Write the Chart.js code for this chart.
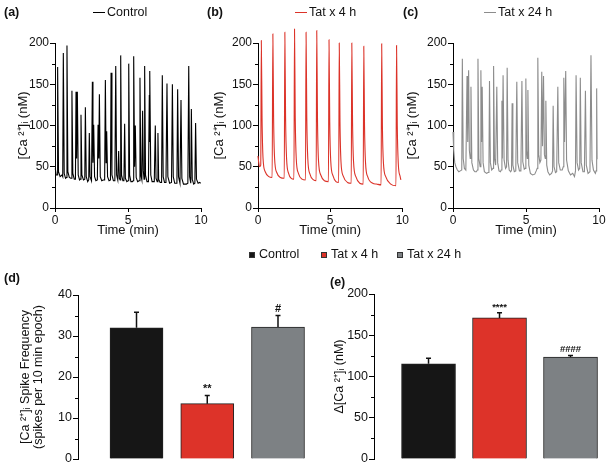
<!DOCTYPE html>
<html>
<head>
<meta charset="utf-8">
<script src="https://cdn.jsdelivr.net/npm/chart.js@4"></script>
<style>
  body { margin: 0; background: #fff; }
  #fig { position: relative; width: 612px; height: 470px; background: #fff; font-family: 'Liberation Sans', Arial, sans-serif; color: #111; }
  #fig canvas { position: absolute; }
  .lbl { position: absolute; font-size: 12.5px; line-height: 16px; white-space: nowrap; }
  .panel { font-weight: bold; }
  .ln { display: inline-block; width: 12px; height: 1.5px; vertical-align: middle; margin-right: 2px; }
  .sq { display: inline-block; width: 6px; height: 6px; vertical-align: middle; margin-right: 4px; border: 0.5px solid #333; box-sizing: border-box; }
</style>
</head>
<body>
<div id="fig">
  <canvas id="traceA" width="212" height="245" style="left:0;top:0"></canvas>
  <canvas id="traceB" width="205" height="245" style="left:205px;top:0"></canvas>
  <canvas id="traceC" width="207" height="245" style="left:405px;top:0"></canvas>
  <canvas id="freqChart" width="318" height="205" style="left:0;top:265px"></canvas>
  <canvas id="deltaChart" width="294" height="205" style="left:318px;top:265px"></canvas>

  <div class="lbl panel" style="left:4px;top:4px">(a)</div>
  <div class="lbl panel" style="left:207px;top:4px">(b)</div>
  <div class="lbl panel" style="left:403px;top:4px">(c)</div>
  <div class="lbl panel" style="left:4px;top:270px">(d)</div>
  <div class="lbl panel" style="left:330px;top:274px">(e)</div>

  <div class="lbl" style="left:93px;top:4px"><span class="ln" style="background:#000"></span>Control</div>
  <div class="lbl" style="left:295px;top:4px"><span class="ln" style="background:#dc3329"></span>Tat x 4 h</div>
  <div class="lbl" style="left:484px;top:4px"><span class="ln" style="background:#8c8c8c"></span>Tat x 24 h</div>

  <div class="lbl" style="left:249px;top:246px"><span class="sq" style="background:#161616"></span>Control</div>
  <div class="lbl" style="left:321px;top:246px"><span class="sq" style="background:#dd3329"></span>Tat x 4 h</div>
  <div class="lbl" style="left:397px;top:246px"><span class="sq" style="background:#7d8184"></span>Tat x 24 h</div>
</div>

<script>
// [time (min), [Ca2+]i (nM)]
const controlTrace = [
  [0.02,48],[0.08,40],[0.15,40],[0.18,171],[0.24,44],[0.35,38],[0.48,40],[0.53,38],[0.57,188],[0.63,42],
  [0.72,36],[0.78,37],[0.82,197],[0.88,44],[0.98,37],[1.08,36],[1.13,36],[1.16,142],[1.22,42],[1.32,35],
  [1.4,35],[1.44,141],[1.48,60],[1.53,141],[1.59,40],[1.68,34],[1.74,35],[1.78,113],[1.84,40],[1.95,34],
  [2.04,35],[2.08,122],[2.14,38],[2.24,32],[2.31,34],[2.35,91],[2.4,38],[2.5,33],[2.56,153],[2.6,55],
  [2.65,101],[2.71,38],[2.8,33],[2.9,34],[2.95,101],[3.0,60],[3.04,138],[3.1,38],[3.2,33],[3.3,34],
  [3.4,34],[3.45,155],[3.5,55],[3.54,93],[3.6,38],[3.7,33],[3.8,34],[3.84,164],[3.9,40],[4.0,33],
  [4.1,33],[4.16,172],[4.22,40],[4.3,34],[4.36,69],[4.41,36],[4.46,34],[4.5,185],[4.56,40],[4.65,33],
  [4.72,33],[4.77,102],[4.82,36],[4.92,32],[5.0,33],[5.05,175],[5.11,40],[5.2,32],[5.3,32],[5.35,33],
  [5.39,184],[5.45,50],[5.5,100],[5.56,37],[5.66,32],[5.76,33],[5.82,158],[5.88,40],[5.95,34],[6.0,118],
  [6.05,45],[6.1,35],[6.14,172],[6.2,40],[6.3,32],[6.4,32],[6.46,137],[6.48,80],[6.5,166],[6.56,40],
  [6.65,32],[6.8,32],[6.87,100],[6.92,36],[7.0,32],[7.05,91],[7.1,35],[7.2,31],[7.3,31],[7.35,161],
  [7.41,38],[7.5,31],[7.6,31],[7.67,151],[7.73,38],[7.85,30],[7.98,31],[8.04,150],[8.1,38],[8.2,30],
  [8.35,30],[8.4,144],[8.46,38],[8.56,30],[8.63,131],[8.69,36],[8.8,29],[9.0,29],[9.1,30],[9.16,172],
  [9.22,38],[9.3,30],[9.34,120],[9.4,35],[9.5,29],[9.58,30],[9.63,103],[9.69,35],[9.8,30],[9.9,31],[9.98,30]
];
const tat4hTrace = [
  [0.0,63],[0.05,55],[0.1,50],[0.19,52],[0.23,203],[0.28,110],[0.35,60],[0.5,44],[0.75,38],[0.98,37],
  [1.03,211],[1.08,110],[1.15,60],[1.3,43],[1.55,37],[1.82,36],
  [1.86,213],[1.91,110],[1.98,60],[2.12,42],[2.3,36],[2.49,35],
  [2.53,217],[2.58,110],[2.65,60],[2.8,42],[3.05,35],[3.29,34],
  [3.33,213],[3.38,110],[3.45,60],[3.6,41],[3.85,34],[4.03,33],
  [4.07,215],[4.12,110],[4.19,58],[4.35,40],[4.6,33],[4.88,32],
  [4.92,204],[4.97,105],[5.04,57],[5.2,39],[5.4,32],[5.59,31],
  [5.63,200],[5.68,105],[5.75,56],[5.9,39],[6.2,31],[6.46,30],
  [6.5,200],[6.55,105],[6.62,56],[6.78,38],[7.05,30],[7.29,29],
  [7.33,196],[7.38,100],[7.45,55],[7.6,38],[7.95,30],[8.2,29],[8.53,28],
  [8.57,199],[8.62,100],[8.69,55],[8.85,38],[9.2,29],[9.56,27],
  [9.6,197],[9.65,100],[9.72,54],[9.85,38],[9.9,34]
];
const tat24hTrace = [
  [0.0,92],[0.05,70],[0.12,55],[0.2,50],[0.3,46],[0.4,44],[0.5,45],[0.6,46],[0.64,181],[0.7,60],
  [0.78,48],[0.88,46],[0.96,160],[1.01,80],[1.07,167],[1.12,70],[1.18,60],[1.23,147],[1.29,55],[1.4,46],
  [1.5,44],[1.6,44],[1.67,46],[1.71,181],[1.77,60],[1.86,50],[1.91,167],[1.96,80],[2.0,147],[2.06,55],
  [2.15,44],[2.3,42],[2.4,43],[2.46,45],[2.5,154],[2.56,55],[2.65,46],[2.74,48],[2.78,172],[2.84,60],
  [2.92,52],[3.0,147],[3.06,55],[3.15,45],[3.25,44],[3.3,46],[3.35,130],[3.38,60],[3.43,161],[3.5,58],
  [3.6,48],[3.67,50],[3.71,170],[3.77,58],[3.85,46],[3.95,44],[4.01,46],[4.05,127],[4.1,52],[4.2,44],
  [4.3,45],[4.37,153],[4.43,55],[4.55,45],[4.65,45],[4.72,154],[4.78,56],[4.88,47],[4.95,48],[4.99,157],
  [5.04,70],[5.09,60],[5.13,143],[5.19,52],[5.3,42],[5.45,40],[5.6,41],[5.7,45],[5.77,48],[5.81,182],
  [5.87,65],[5.95,55],[6.02,58],[6.08,165],[6.13,75],[6.2,160],[6.26,65],[6.32,60],[6.36,130],[6.42,52],
  [6.5,44],[6.62,40],[6.75,42],[6.82,45],[6.86,124],[6.92,50],[7.02,43],[7.1,44],[7.18,147],[7.24,55],
  [7.35,46],[7.48,46],[7.55,50],[7.59,158],[7.64,80],[7.72,166],[7.78,58],[7.9,45],[8.05,40],[8.2,42],
  [8.32,38],[8.39,45],[8.43,161],[8.5,55],[8.6,46],[8.68,48],[8.72,158],[8.78,55],[8.9,44],[9.0,44],
  [9.07,142],[9.13,52],[9.25,42],[9.38,44],[9.45,185],[9.52,58],[9.62,46],[9.75,42],[9.8,45],[9.84,145],[9.87,59]
];

const groups = ['Control', 'Tat x 4 h', 'Tat x 24 h'];
const spikeFreq = [32.0, 13.5, 32.2];
const spikeFreqSem = [3.8, 2.0, 2.8];
const spikeFreqMarks = ['', '**', '#'];
const deltaCa = [115.5, 171.0, 123.6];
const deltaCaSem = [6.5, 6.3, 2.0];
const deltaCaMarks = ['', '****', '####'];

const barColors = ['#161616', '#dd3329', '#7d8184'];
const FONT = "'Liberation Sans', Arial, sans-serif";
Chart.defaults.font.family = FONT;
Chart.defaults.color = '#111';
Chart.defaults.animation = false;

// short minor ticks half way between the labelled ones
const minorTicks = {
  id: 'minorTicks',
  afterDraw(chart, args, opts) {
    if (!opts.step) return;
    const y = chart.scales.y;
    const ctx = chart.ctx;
    ctx.save();
    ctx.strokeStyle = '#000';
    ctx.lineWidth = 1;
    for (let v = y.min + opts.step; v < y.max; v += 2 * opts.step) {
      const py = Math.round(y.getPixelForValue(v)) + 0.5;
      ctx.beginPath();
      ctx.moveTo(y.right - 3, py);
      ctx.lineTo(y.right, py);
      ctx.stroke();
    }
    ctx.restore();
  }
};

function makeErrorBars(means, sem, marks, markFont) {
  return {
    id: 'errorBars',
    afterDatasetsDraw(chart) {
      const meta = chart.getDatasetMeta(0);
      const y = chart.scales.y;
      const ctx = chart.ctx;
      ctx.save();
      meta.data.forEach((bar, i) => {
        const top = y.getPixelForValue(means[i] + sem[i]);
        ctx.strokeStyle = '#111';
        ctx.lineWidth = 1.5;
        ctx.beginPath();
        ctx.moveTo(bar.x, bar.y);
        ctx.lineTo(bar.x, top);
        ctx.moveTo(bar.x - 2.5, top);
        ctx.lineTo(bar.x + 2.5, top);
        ctx.stroke();
        if (marks[i]) {
          ctx.fillStyle = '#111';
          ctx.font = markFont;
          ctx.textAlign = 'center';
          ctx.textBaseline = 'bottom';
          ctx.fillText(marks[i], bar.x, top - 1);
        }
      });
      ctx.restore();
    }
  };
}

function traceChart(id, points, color, yWidth, yTitlePad, padRight, smooth) {
  return new Chart(document.getElementById(id), {
    type: 'line',
    data: {
      datasets: [{
        data: points.map(p => ({ x: p[0], y: p[1] })),
        borderColor: color,
        borderWidth: 1.1,
        pointRadius: 0,
        cubicInterpolationMode: smooth ? 'monotone' : 'default',
        clip: false
      }]
    },
    options: {
      responsive: false,
      layout: { padding: { top: 43, right: padRight, bottom: 0, left: 0 } },
      plugins: { legend: { display: false }, tooltip: { enabled: false }, minorTicks: { step: 25 } },
      scales: {
        x: {
          type: 'linear', min: 0, max: 10,
          border: { color: '#000', width: 1 },
          grid: { drawOnChartArea: false, tickLength: 4, tickColor: '#000' },
          ticks: { stepSize: 5, padding: 1, maxRotation: 0, font: { size: 12 }, color: '#111' },
          title: { display: true, text: 'Time (min)', font: { size: 13 }, color: '#111', padding: { top: 0, bottom: 7 } },
          afterFit: s => { s.height = 37; }
        },
        y: {
          min: 0, max: 200,
          border: { color: '#000', width: 1 },
          grid: { drawOnChartArea: false, tickLength: 5, tickColor: '#000' },
          ticks: { stepSize: 50, padding: 1, font: { size: 12 }, color: '#111' },
          title: { display: true, text: '[Ca ²⁺]ᵢ (nM)', font: { size: 13 }, color: '#111', padding: { top: yTitlePad, bottom: 0 } },
          afterFit: s => { s.width = yWidth; }
        }
      }
    },
    plugins: [minorTicks]
  });
}

function barChart(id, values, sem, marks, opts) {
  return new Chart(document.getElementById(id), {
    type: 'bar',
    data: {
      datasets: [{
        data: values.map((v, i) => ({ x: i, y: v })),
        backgroundColor: barColors,
        borderColor: '#222',
        borderWidth: 1,
        barThickness: opts.barWidth
      }]
    },
    options: {
      responsive: false,
      layout: { padding: opts.padding },
      plugins: { legend: { display: false }, tooltip: { enabled: false }, minorTicks: { step: opts.step / 2 } },
      scales: {
        x: { type: 'linear', display: false, offset: false, bounds: 'ticks', min: opts.xMin, max: opts.xMax },
        y: {
          min: 0, max: opts.yMax,
          border: { color: '#000', width: 1 },
          grid: { drawOnChartArea: false, tickLength: 5, tickColor: '#000' },
          ticks: { stepSize: opts.step, padding: 1, font: { size: 12.5 }, color: '#111' },
          title: { display: true, text: opts.title, font: { size: 12.5, lineHeight: 1.05 }, color: '#111', padding: { top: opts.titlePad, bottom: 0 } },
          afterFit: s => { s.width = opts.yWidth; }
        }
      }
    },
    plugins: [minorTicks, makeErrorBars(values, sem, marks, opts.markFont)]
  });
}

traceChart('traceA', controlTrace, '#000', 55, 16, 11, false);
traceChart('traceB', tat4hTrace, '#dc3329', 53, 7, 7, true);
traceChart('traceC', tat24hTrace, '#8c8c8c', 48, 0, 13, false);

barChart('freqChart', spikeFreq, spikeFreqSem, spikeFreqMarks, {
  padding: { top: 30, right: 3, bottom: 11, left: 0 },
  yWidth: 78, yMax: 40, step: 10, titlePad: 19,
  title: ['[Ca ²⁺]ᵢ Spike Frequency', '(spikes per 10 min epoch)'],
  xMin: -0.827, xMax: 2.523, barWidth: 53,
  markFont: 'bold 11px ' + FONT
});
barChart('deltaChart', deltaCa, deltaCaSem, deltaCaMarks, {
  padding: { top: 29, right: 4, bottom: 11, left: 0 },
  yWidth: 56, yMax: 200, step: 50, titlePad: 15,
  title: 'Δ[Ca ²⁺]ᵢ (nM)',
  xMin: -0.768, xMax: 2.528, barWidth: 54,
  markFont: 'bold 9.5px ' + FONT
});
</script>
</body>
</html>
